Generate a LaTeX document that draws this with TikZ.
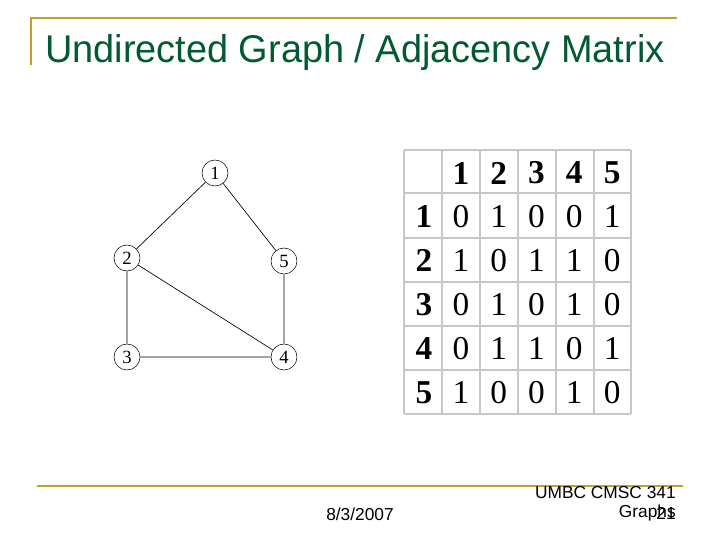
\documentclass[tikz,border=0pt]{standalone}
\usepackage{fontspec}
\setmainfont{Liberation Serif}
\setsansfont{Liberation Sans}
\begin{document}
\begin{tikzpicture}[x=0.75pt,y=-0.75pt,
  vert/.style={circle,draw,inner sep=0pt,minimum size=19.5pt,font=\fontsize{14}{14}\selectfont},
  edge/.style={draw,line width=0.5pt},
  cellline/.style={draw=black!22,line width=1.5pt},
  gold/.style={draw={rgb,255:red,196;green,160;blue,40},line width=2pt}]
\useasboundingbox (0,0) rectangle (720,540);
\draw[gold] (31,65) -- (31,18) -- (677,18);
\node[anchor=base west,inner sep=0,text={rgb,255:red,0;green,90;blue,50},font=\sffamily\fontsize{29}{29}\selectfont,xscale=0.98] (title) at (45,62) {Undirected Graph / Adjacency Matrix};
% graph
\node[vert] (n1) at (215,173) {1};
\node[vert] (n2) at (127,258) {2};
\node[vert] (n5) at (284,261) {5};
\node[vert] (n3) at (127,357) {3};
\node[vert] (n4) at (284,357) {4};
\draw[edge] (n1)--(n2) (n1)--(n5) (n2)--(n3) (n2)--(n4) (n5)--(n4) (n3)--(n4);
% matrix
\foreach \x in {404,442,480,518,556,594,631} \draw[cellline] (\x,150) -- (\x,414);
\foreach \y in {150,193,238,282,326,370,414} \draw[cellline] (404,\y) -- (631,\y);
\foreach \l [count=\i] in {1,2,3,4,5} {
  \node[font=\bfseries\fontsize{25}{25}\selectfont] (h\i) at ({442+(\i-0.5)*37.8},173) {\l};
  \node[font=\bfseries\fontsize{25}{25}\selectfont] (r\i) at (424,{194+(\i-0.5)*44.2}) {\l};
}
\foreach \row [count=\r] in {{0,1,0,0,1},{1,0,1,1,0},{0,1,0,1,0},{0,1,1,0,1},{1,0,0,1,0}}
  \foreach \v [count=\c] in \row
    \node[font=\fontsize{25}{25}\selectfont] (m\r\c) at ({442+(\c-0.5)*37.8},{194+(\r-0.5)*44.2}) {\v};
% footer
\draw[gold] (37,486) -- (683,486);
\node[anchor=base,inner sep=0,font=\sffamily\fontsize{13}{13}\selectfont] (date) at (360,520) {8/3/2007};
\node[anchor=base east,inner sep=0,font=\sffamily\fontsize{13}{13}\selectfont] (f1) at (676,498) {UMBC CMSC 341};
\node[anchor=base east,inner sep=0,font=\sffamily\fontsize{13}{13}\selectfont] (f2) at (676,517) {Graphs};
\node[anchor=base east,inner sep=0,font=\sffamily\fontsize{13}{13}\selectfont] (f3) at (676,519) {21};
\end{tikzpicture}
\end{document}
